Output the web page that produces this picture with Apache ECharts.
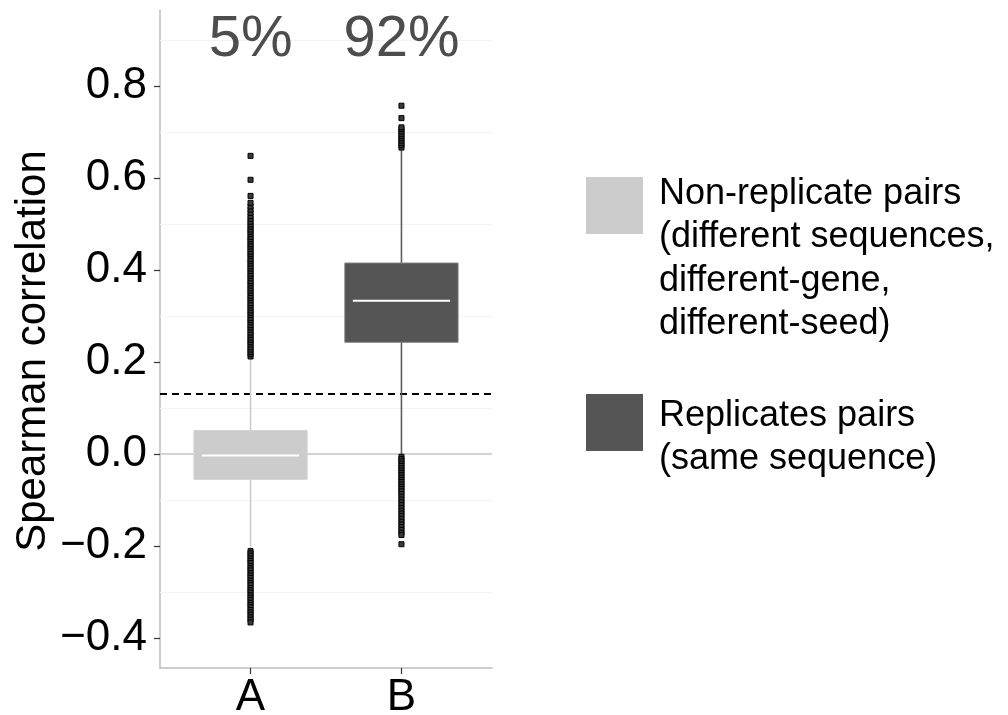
<!DOCTYPE html>
<html>
<head>
<meta charset="utf-8">
<script src="https://cdn.jsdelivr.net/npm/echarts@6/dist/echarts.min.js"></script>
<style>
  html, body { margin: 0; padding: 0; background: #fff; }
  #chart { width: 1008px; height: 715px; }
</style>
</head>
<body>
<div id="chart"></div>
<script>
const categories = ['A', 'B'];
const yTicks = [-0.4, -0.2, 0, 0.2, 0.4, 0.6, 0.8];
const faintGrid = [-0.3, -0.1, 0.1, 0.3, 0.5, 0.7, 0.9];
const pctLabels = ['5%', '92%'];
const threshold = 0.134;
const groupNames = [
  'Non-replicate pairs\n(different sequences,\ndifferent-gene,\ndifferent-seed)',
  'Replicates pairs\n(same sequence)'
];
const groupColors = ['#cccccc', '#555555'];

// min, Q1, median, Q3, max
const boxA = [-0.209, -0.055, -0.003, 0.051, 0.209];
const boxB = [-0.004, 0.243, 0.333, 0.415, 0.663];

const outliersA = [
  0.212, 0.217, 0.222, 0.227, 0.232, 0.238, 0.243, 0.248, 0.253, 0.259,
  0.264, 0.27, 0.275, 0.28, 0.286, 0.291, 0.296, 0.302, 0.307, 0.312,
  0.318, 0.323, 0.328, 0.334, 0.339, 0.344, 0.35, 0.355, 0.36, 0.366,
  0.371, 0.376, 0.382, 0.387, 0.392, 0.398, 0.403, 0.408, 0.414, 0.419,
  0.424, 0.43, 0.435, 0.44, 0.446, 0.451, 0.456, 0.462, 0.467, 0.472,
  0.478, 0.483, 0.488, 0.494, 0.499, 0.505, 0.511, 0.517, 0.524, 0.531,
  0.538, 0.546, 0.561, 0.596, 0.648,
  -0.211, -0.216, -0.221, -0.227, -0.232, -0.237, -0.243, -0.248, -0.253, -0.259,
  -0.264, -0.269, -0.275, -0.28, -0.285, -0.291, -0.296, -0.301, -0.307, -0.312,
  -0.317, -0.323, -0.328, -0.333, -0.339, -0.344, -0.349, -0.355, -0.36, -0.366
];
const outliersB = [
  0.666, 0.671, 0.676, 0.681, 0.686, 0.691, 0.696, 0.701, 0.706, 0.71,
  0.73, 0.757,
  -0.006, -0.011, -0.016, -0.021, -0.026, -0.031, -0.036, -0.041, -0.046, -0.051,
  -0.056, -0.061, -0.066, -0.071, -0.076, -0.081, -0.087, -0.093, -0.099, -0.105,
  -0.111, -0.117, -0.123, -0.129, -0.135, -0.141, -0.147, -0.153, -0.159, -0.165,
  -0.171, -0.176, -0.196
];

const FONT = '"Liberation Sans", Arial, sans-serif';

const boxData = [[1].concat(boxA), [2].concat(boxB)];
const outlierData = outliersA.map(v => [1, v]).concat(outliersB.map(v => [2, v]));
const pctData = pctLabels.map((t, i) => [i + 1, 0.9]);

const whiskerColors = ['#cccccc', '#5e5e5e'];
const boxBorders = ['#d2d2d2', '#7a7a7a'];

function renderBox(params, api) {
  const idx = params.dataIndex;
  const x = api.value(0);
  const pMin = api.coord([x, api.value(1)]);
  const pQ1 = api.coord([x, api.value(2)]);
  const pMed = api.coord([x, api.value(3)]);
  const pQ3 = api.coord([x, api.value(4)]);
  const pMax = api.coord([x, api.value(5)]);
  const w = api.size([0.75, 0])[0];
  const cx = pMed[0];
  return {
    type: 'group',
    children: [
      { type: 'line', shape: { x1: cx, y1: pMin[1], x2: cx, y2: pQ1[1] },
        style: { stroke: whiskerColors[idx], lineWidth: 1.6 } },
      { type: 'line', shape: { x1: cx, y1: pQ3[1], x2: cx, y2: pMax[1] },
        style: { stroke: whiskerColors[idx], lineWidth: 1.6 } },
      { type: 'rect', shape: { x: cx - w / 2, y: pQ3[1], width: w, height: pQ1[1] - pQ3[1] },
        style: { fill: groupColors[idx], stroke: boxBorders[idx], lineWidth: 1 } },
      { type: 'line', shape: { x1: cx - w / 2 + 8, y1: pMed[1], x2: cx + w / 2 - 8, y2: pMed[1] },
        style: { stroke: '#ffffff', lineWidth: 2 } }
    ]
  };
}

const chart = echarts.init(document.getElementById('chart'), null, { renderer: 'canvas' });

const option = {
  backgroundColor: '#ffffff',
  animation: false,
  grid: { left: 160, top: 10, width: 332, height: 658, containLabel: false, outerBoundsMode: 'none' },
  xAxis: {
    type: 'value',
    min: 0.4,
    max: 2.6,
    splitLine: { show: false },
    axisLine: { show: true, onZero: false, lineStyle: { color: '#bdbdbd', width: 1.5 } },
    axisTick: { show: true, customValues: [1, 2], length: 6, lineStyle: { color: '#333', width: 1.2 } },
    axisLabel: {
      customValues: [1, 2],
      formatter: v => categories[Math.round(v) - 1],
      fontFamily: FONT, fontSize: 44, color: '#000', margin: 8
    }
  },
  yAxis: {
    type: 'value',
    min: -0.465,
    max: 0.965,
    name: 'Spearman correlation',
    nameLocation: 'middle',
    nameRotate: 90,
    nameGap: 106,
    nameTextStyle: { fontFamily: FONT, fontSize: 42, color: '#000', padding: [0, 24, 0, 0] },
    splitLine: { show: false },
    axisLine: { show: true, onZero: false, lineStyle: { color: '#bdbdbd', width: 1.5 } },
    axisTick: { show: true, customValues: yTicks, length: 6, lineStyle: { color: '#333', width: 1.2 } },
    axisLabel: {
      customValues: yTicks,
      formatter: v => v.toFixed(1).replace('-', '\u2212'),
      fontFamily: FONT, fontSize: 44, color: '#000', margin: 13
    }
  },
  series: [
    {
      type: 'scatter',
      name: 'labels',
      data: pctData,
      symbolSize: 0,
      silent: true,
      z: 5,
      itemStyle: { opacity: 1 },
      label: {
        show: true,
        position: 'inside',
        formatter: p => pctLabels[p.dataIndex],
        fontFamily: FONT, fontSize: 58, color: '#4d4d4d'
      },
      markLine: {
        silent: true,
        symbol: 'none',
        label: { show: false },
        z: 1,
        data: faintGrid.map(v => ({ yAxis: v, lineStyle: { color: '#f3f3f3', width: 1, type: 'solid' } }))
          .concat([
            { yAxis: 0, lineStyle: { color: '#c4c4c4', width: 1.5, type: 'solid' } },
            { yAxis: threshold, lineStyle: { color: '#000', width: 1.8, type: [7, 5] } }
          ])
      }
    },
    {
      type: 'custom',
      name: 'boxes',
      renderItem: renderBox,
      data: boxData,
      encode: { x: 0, y: [1, 2, 3, 4, 5] },
      z: 3
    },
    {
      type: 'scatter',
      name: 'outliers',
      data: outlierData,
      symbol: 'rect',
      symbolSize: 5,
      z: 4,
      itemStyle: { color: '#3a3a3a', borderColor: '#000', borderWidth: 1, opacity: 1 }
    }
  ],
  graphic: [
    { type: 'rect', left: 586, top: 177, shape: { width: 57, height: 57 }, style: { fill: groupColors[0] } },
    { type: 'text', left: 659, top: 172, style: { text: groupNames[0], font: '36px "Liberation Sans", Arial, sans-serif', lineHeight: 43.5, fill: '#000' } },
    { type: 'rect', left: 586, top: 394, shape: { width: 57, height: 57 }, style: { fill: groupColors[1] } },
    { type: 'text', left: 659, top: 394, style: { text: groupNames[1], font: '36px "Liberation Sans", Arial, sans-serif', lineHeight: 43.5, fill: '#000' } }
  ]
};

chart.setOption(option);

window.addEventListener('resize', function () {
  chart.resize();
});
</script>
</body>
</html>
